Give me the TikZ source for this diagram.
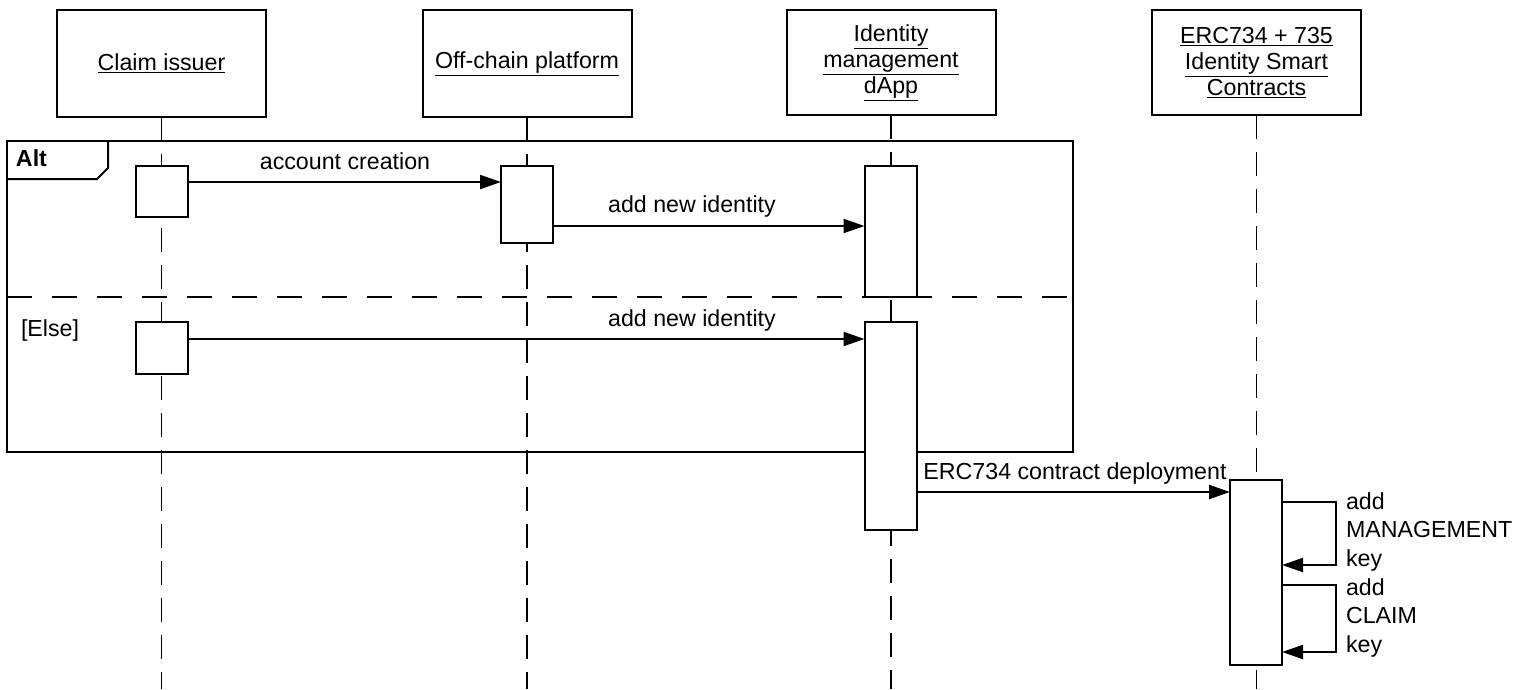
\documentclass[tikz,border=0pt]{standalone}
\usepackage{fontspec}
\setmainfont{Liberation Sans}
\usetikzlibrary{arrows.meta}
\begin{document}
\begin{tikzpicture}[x=1pt,y=-1pt,
  every node/.style={inner sep=0pt, outer sep=0pt},
  txt/.style={font=\fontsize{23.2}{26}\selectfont},
  head/.style={draw, line width=2pt, minimum width=209pt, txt, align=center},
  act/.style={draw, fill=white, line width=2pt, minimum width=52pt},
  life/.style={line width=1.6pt, dash pattern=on 24pt off 13pt},
  msg/.style={line width=2pt, -{Triangle[length=21pt,width=14pt]}},
  frm/.style={line width=2pt},
]
\useasboundingbox (0,0) rectangle (1531,689);
\fill[white] (0,0) rectangle (1531,689);
\coordinate (bot) at (0,689);

% participants
\node[head, minimum height=107pt] (ci) at (161.5,63.5) {\underline{Claim issuer}};
\node[head, minimum height=107pt] (ocp) at (527,63.5) {\underline{Off-chain platform}};
\node[head, minimum height=105pt] (dapp) at (891,62.5) {\underline{Identity}\\\underline{management}\\\underline{dApp}};
\node[head, minimum height=105pt] (erc) at (1256.5,62.5) {\underline{ERC734 + 735}\\\underline{Identity Smart}\\\underline{Contracts}};

% lifelines
\draw[life] (ci.south) -- (ci.south |- bot);
\draw[life] (ocp.south) -- (ocp.south |- bot);
\draw[life] (dapp.south) -- (dapp.south |- bot);
\draw[life] (erc.south) -- (erc.south |- bot);

% alt frame
\coordinate (fTL) at (7,141);
\coordinate (fBR) at (1073,452);
\draw[frm] (fTL) rectangle (fBR);
\draw[frm] (7,179) -- (97,179) -- (108,168) -- (108,141);
\node[txt, font=\fontsize{23.2}{26}\selectfont\bfseries, anchor=base west] (alt) at (16,166) {Alt};
\draw[frm, dash pattern=on 25pt off 20pt] (7,297) -- (1073,297);
\node[txt, anchor=base west] (else) at (21,336) {[Else]};

% activations
\node[act, minimum height=51pt] (a1) at (162,191.5) {};
\node[act, minimum height=77pt] (a2) at (527,204.5) {};
\node[act, minimum height=131pt] (a3) at (890.5,231.5) {};
\node[act, minimum height=52pt] (a4) at (162,348) {};
\node[act, minimum height=208pt] (a5) at (890.5,426) {};
\node[act, minimum height=185pt] (a6) at (1256,572) {};

% message y-levels
\coordinate (m1) at (0,182);
\coordinate (m2) at (0,226);
\coordinate (m3) at (0,339);
\coordinate (m4) at (0,492);
\coordinate (s1a) at (0,502);
\coordinate (s1b) at (0,565);
\coordinate (s2a) at (0,585);
\coordinate (s2b) at (0,652);

\draw[msg] (a1.east |- m1) -- (a2.west |- m1);
\node[txt, anchor=base] (l1) at (345,169) {account creation};
\draw[msg] (a2.east |- m2) -- (a3.west |- m2);
\node[txt, anchor=base] (l2) at (692,212) {add new identity};
\draw[msg] (a4.east |- m3) -- (a5.west |- m3);
\node[txt, anchor=base] (l3) at (692,326) {add new identity};
\draw[msg] (a5.east |- m4) -- (a6.west |- m4);
\node[txt, anchor=base] (l4) at (1075,479) {ERC734 contract deployment};

% self messages
\draw[msg] (a6.east |- s1a) -- ++(54,0) |- (a6.east |- s1b);
\draw[msg] (a6.east |- s2a) -- ++(54,0) |- (a6.east |- s2b);
\node[txt, align=left, anchor=base west, font=\fontsize{23.2}{28.5}\selectfont] (k1) at (1346,566) {add\\MANAGEMENT\\key};
\node[txt, align=left, anchor=base west, font=\fontsize{23.2}{28.5}\selectfont] (k2) at (1346,652) {add\\CLAIM\\key};
\end{tikzpicture}
\end{document}
